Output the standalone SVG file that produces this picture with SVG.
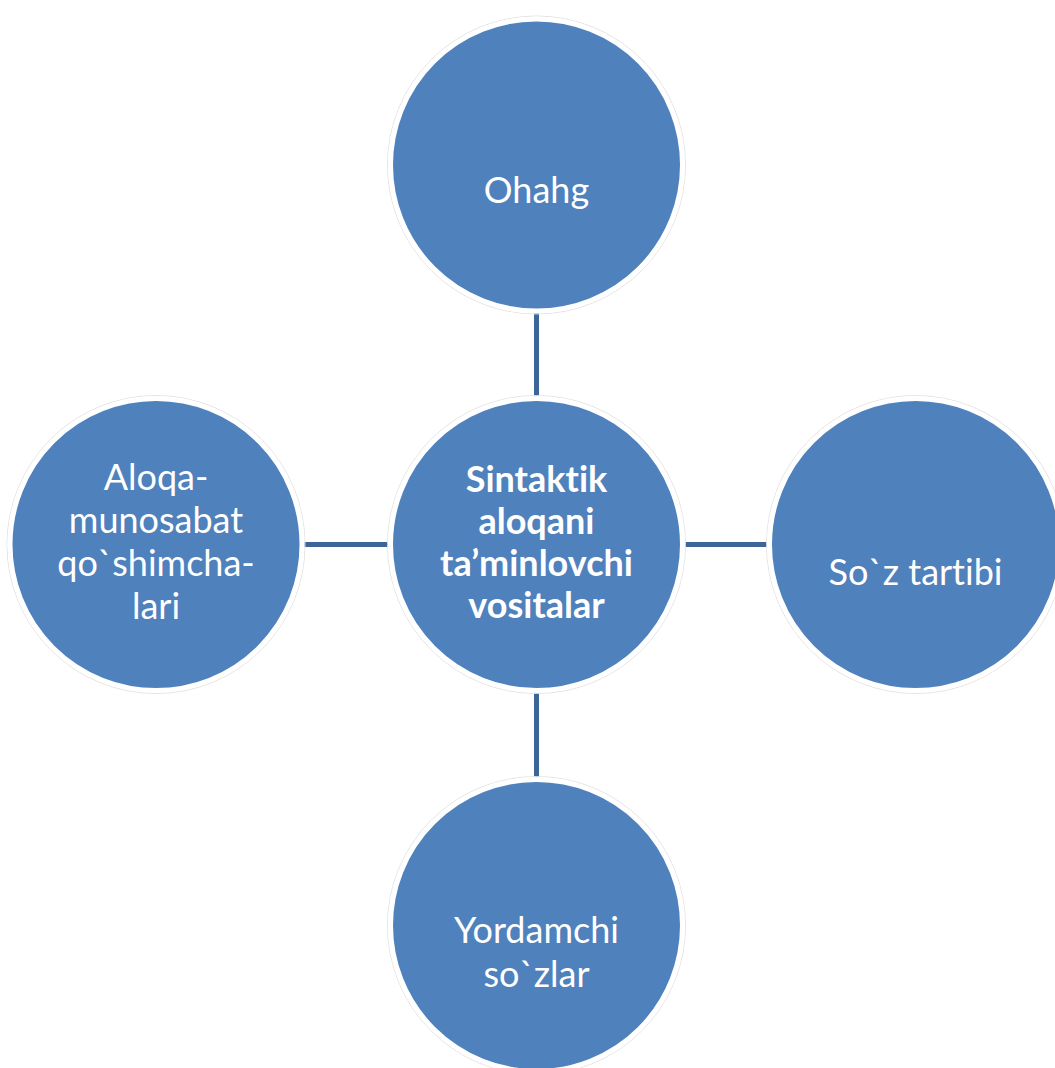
<svg xmlns="http://www.w3.org/2000/svg" width="1055" height="1068" viewBox="0 0 1055 1068">
<style>
.ring{fill:none;stroke:#e4e4e4;stroke-width:1}
.node{fill:#4f81bd;stroke:#ffffff;stroke-width:5}
.lbl{font-family:Lato,"Open Sans","Liberation Sans",sans-serif;font-size:36px;fill:#ffffff;text-anchor:middle;font-variant-ligatures:none;font-feature-settings:"liga" 0,"clig" 0}
.bold{font-weight:bold}
.conn{stroke:#3d6698;stroke-width:5;fill:none}
</style>
<rect width="1055" height="1068" fill="#ffffff"/>
<g id="connectors">
<line class="conn" x1="536.5" y1="311" x2="536.5" y2="399"/>
<line class="conn" x1="536.5" y1="690" x2="536.5" y2="778"/>
<line class="conn" x1="303" y1="544.5" x2="390" y2="544.5"/>
<line class="conn" x1="683" y1="544.5" x2="770" y2="544.5"/>
</g>
<g id="node-center">
<circle class="ring" cx="536.5" cy="544.5" r="149"/>
<circle class="node" cx="536.5" cy="544.5" r="146"/>
<text class="lbl bold" x="536.5"><tspan x="536.5" y="492">Sintaktik</tspan><tspan x="536.5" y="534">aloqani</tspan><tspan x="536.5" y="576">ta’minlovchi</tspan><tspan x="536.5" y="618">vositalar</tspan></text>
</g>
<g id="node-top">
<circle class="ring" cx="536.5" cy="165" r="149"/>
<circle class="node" cx="536.5" cy="165" r="146"/>
<text class="lbl" x="536.5" y="203">Ohahg</text>
</g>
<g id="node-left">
<circle class="ring" cx="156" cy="544.5" r="149"/>
<circle class="node" cx="156" cy="544.5" r="146"/>
<text class="lbl" x="156"><tspan x="156" y="490">Aloqa-</tspan><tspan x="156" y="533">munosabat</tspan><tspan x="156" y="576">qo`shimcha-</tspan><tspan x="156" y="619">lari</tspan></text>
</g>
<g id="node-right">
<circle class="ring" cx="915.5" cy="544.5" r="149"/>
<circle class="node" cx="915.5" cy="544.5" r="146"/>
<text class="lbl" x="915.5" y="585">So`z tartibi</text>
</g>
<g id="node-bottom">
<circle class="ring" cx="536.5" cy="925.5" r="149"/>
<circle class="node" cx="536.5" cy="925.5" r="146"/>
<text class="lbl" x="536.5"><tspan x="536.5" y="943">Yordamchi</tspan><tspan x="536.5" y="987">so`zlar</tspan></text>
</g>
</svg>
